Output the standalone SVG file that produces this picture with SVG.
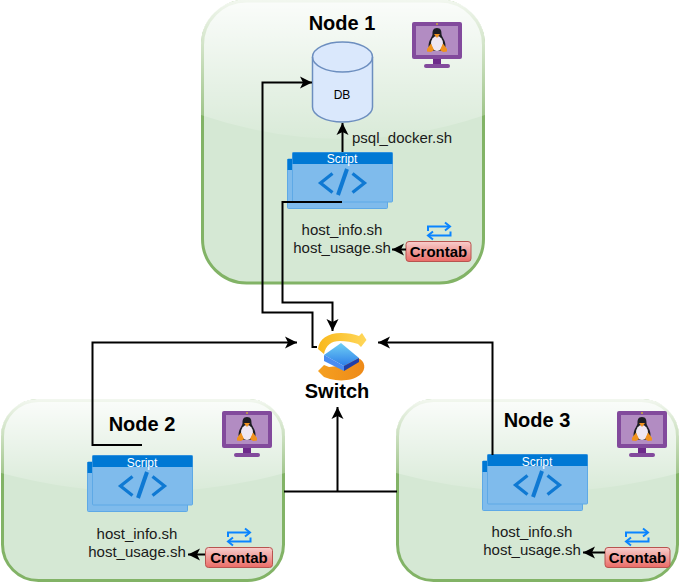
<svg xmlns="http://www.w3.org/2000/svg" xmlns:xlink="http://www.w3.org/1999/xlink" width="679" height="583" viewBox="0 0 679 583">
<style>
text{font-family:"Liberation Sans",Arial,sans-serif;fill:#000}
.panel{fill:#d5e8d4;stroke:#82b366;stroke-width:3}
.glass{fill:url(#glassGrad)}
.title{font-size:20px;font-weight:bold;text-anchor:middle}
.sh{font-size:15px;text-anchor:middle;fill:#1a1a1a}
.cron{fill:url(#cronGrad);stroke:#b85450;stroke-width:1}
.cronT{font-size:15px;font-weight:bold;text-anchor:middle}
.conn{fill:none;stroke:#000;stroke-width:2}
.scr{font-size:12px;fill:#fff;text-anchor:middle}
</style>
<defs>
<linearGradient id="glassGrad" x1="0" y1="0" x2="0" y2="1"><stop offset="0" stop-color="#fff" stop-opacity=".9"/><stop offset="1" stop-color="#fff" stop-opacity=".1"/></linearGradient>
<linearGradient id="cronGrad" x1="0" y1="0" x2="0" y2="1"><stop offset="0" stop-color="#f8cecc"/><stop offset="1" stop-color="#ea6b66"/></linearGradient>
<linearGradient id="boxTop" x1="0" y1="0" x2="0" y2="1"><stop offset="0" stop-color="#6fd0f5"/><stop offset="1" stop-color="#2f7fe8"/></linearGradient>
<linearGradient id="yel" x1="0" y1="0" x2="1" y2="0"><stop offset="0" stop-color="#f9b81c"/><stop offset="1" stop-color="#ffd75a"/></linearGradient>
<linearGradient id="org" x1="0" y1="0" x2="1" y2="0"><stop offset="0" stop-color="#f5a020"/><stop offset="1" stop-color="#ee8a18"/></linearGradient>
<marker id="arrow" markerUnits="userSpaceOnUse" markerWidth="14" markerHeight="14" refX="13" refY="7" orient="auto"><path d="M1,1 L13,7 L1,13 L4,7 Z" fill="#000"/></marker>
<g id="scriptIcon">
<rect x="-5" y="6.5" width="100" height="49.5" rx="1" fill="#7fbbec" stroke="#5ea9e6"/>
<rect x="-5" y="6.5" width="100" height="11" fill="#0078d4"/>
<rect x="0" y="0" width="100" height="49.5" rx="1" fill="#7fbbec" stroke="#5ea9e6"/>
<rect x="0" y="0" width="100" height="11.5" fill="#0078d4"/>
<path d="M40,21 L28,30.5 L40,40 M60,21 L72,30.5 L60,40" fill="none" stroke="#0f79d3" stroke-width="3.2"/>
<path d="M54.5,16.5 L45.5,42.5" fill="none" stroke="#0f79d3" stroke-width="4"/>
</g>
<g id="refreshIcon" fill="none" stroke="#0a84ff" stroke-width="2">
<path d="M1,9 V4.5 H22"/><path d="M18,0.5 L23,4.5 L18,8.5"/>
<path d="M23.5,9.5 V13.5 H2"/><path d="M6,9.5 L1,13.5 L6,17.5"/>
</g>
<g id="linuxIcon">
<rect x="0" y="0" width="50" height="37" rx="2" fill="#824a9c"/>
<rect x="4" y="4" width="42" height="29" fill="#b28cc2"/>
<circle cx="25" cy="2" r="1" fill="#c9a93a"/>
<rect x="21" y="37" width="8" height="5" fill="#6d2a8a"/>
<rect x="12" y="42" width="26" height="4" rx="2" fill="#824a9c"/>
<path d="M25,6 C21,6 20.5,9 20.5,12 C20.5,15 16.5,18 16.5,24 C16.5,28 20,29 25,29 C30,29 33.5,28 33.5,24 C33.5,18 29.5,15 29.5,12 C29.5,9 29,6 25,6 Z" fill="#1e1e24"/>
<ellipse cx="25" cy="21.5" rx="6" ry="7.5" fill="#eee6f2"/>
<path d="M22,12 L28,12 L25,16 Z" fill="#f0921e"/>
<path d="M15,27 L19,21.5 L22,28 L19,30 L15,29.5 Z M35,27 L31,21.5 L28,28 L31,30 L35,29.5 Z" fill="#f0921e"/>
</g>
</defs>

<g id="node1">
<rect class="panel" x="202.5" y="1" width="281" height="282" rx="44"/>
<path class="glass" d="M201,115 V45 A44,44 0 0 1 245,-0.5 H441 A44,44 0 0 1 485,45 V115 Q343,163 201,115 Z"/>
<text class="title" x="342" y="30">Node 1</text>
<use xlink:href="#linuxIcon" href="#linuxIcon" x="412" y="22"/>
<g id="db">
<path d="M312.5,57 V107 A30,15 0 0 0 372.5,107 V57 A30,15 0 0 0 312.5,57 Z" fill="#dae8fc" stroke="#6c8ebf" stroke-width="1.5"/>
<path d="M312.5,57 A30,15 0 0 0 372.5,57" fill="none" stroke="#6c8ebf" stroke-width="1.5"/>
<text x="342" y="99" font-size="12" text-anchor="middle">DB</text>
</g>
<text class="sh" x="402" y="143">psql_docker.sh</text>
<g id="script1"><use xlink:href="#scriptIcon" href="#scriptIcon" x="292.5" y="152.5"/><text class="scr" x="342" y="163">Script</text></g>
<text class="sh" x="342" y="235">host_info.sh</text>
<text class="sh" x="342" y="253">host_usage.sh</text>
<use xlink:href="#refreshIcon" href="#refreshIcon" x="427" y="222"/>
<g id="crontab1"><rect class="cron" x="406" y="241.5" width="65" height="20" rx="3"/><text class="cronT" x="438.5" y="257">Crontab</text></g>
</g>

<g id="node2">
<rect class="panel" x="2.5" y="400.5" width="281" height="180" rx="36"/>
<path class="glass" d="M1,473 V436 A36,36 0 0 1 37,399 H249 A36,36 0 0 1 285,436 V473 Q143,511 1,473 Z"/>
<text class="title" x="142" y="431">Node 2</text>
<use xlink:href="#linuxIcon" href="#linuxIcon" x="222" y="411"/>
<g id="script2"><use xlink:href="#scriptIcon" href="#scriptIcon" x="92.5" y="455.5"/><text class="scr" x="142" y="467">Script</text></g>
<text class="sh" x="137" y="539">host_info.sh</text>
<text class="sh" x="137" y="557">host_usage.sh</text>
<use xlink:href="#refreshIcon" href="#refreshIcon" x="227" y="528"/>
<g id="crontab2"><rect class="cron" x="205.5" y="547.5" width="67" height="20" rx="3"/><text class="cronT" x="239" y="563">Crontab</text></g>
</g>

<g id="node3">
<rect class="panel" x="397.5" y="400.5" width="280" height="180" rx="36"/>
<path class="glass" d="M396,473 V436 A36,36 0 0 1 432,399 H643 A36,36 0 0 1 679,436 V473 Q537,511 396,473 Z"/>
<text class="title" x="537" y="427">Node 3</text>
<use xlink:href="#linuxIcon" href="#linuxIcon" x="617" y="411"/>
<g id="script3"><use xlink:href="#scriptIcon" href="#scriptIcon" x="487.5" y="454.5"/><text class="scr" x="537" y="466">Script</text></g>
<text class="sh" x="532" y="537">host_info.sh</text>
<text class="sh" x="532" y="555">host_usage.sh</text>
<use xlink:href="#refreshIcon" href="#refreshIcon" x="625" y="528"/>
<g id="crontab3"><rect class="cron" x="605" y="547.5" width="65" height="20" rx="3"/><text class="cronT" x="637.5" y="563">Crontab</text></g>
</g>

<g id="switch">
<path d="M318,349 C319,339 328,333 341,333 C348,333 354,334 359,336 L362,333 L366.5,340 L361,347 L358,344 C352,342 346,341 340,341 C331,341 326,345 324,354 Z" fill="url(#yel)"/>
<path d="M358,360 C361,363 360,368 352,371 C346,373 338,373 329,372 L324,377 L318,371 L324,365 L329,367 C335,366 339,366 343,366 L358,358 Z M358,358 C365,361 367,369 360,375 C352,381 340,381.5 330,379 L324,377 L328,371 L350,369 Z" fill="url(#org)"/>
<path d="M324,355 L341,343 L359,358 L344,366 Z" fill="url(#boxTop)"/>
<path d="M324,355 L344,366 L344,371 L324,361 Z" fill="#4a8cf0"/>
<path d="M344,366 L359,358 L359,362 L344,371 Z" fill="#1f3fa8"/>
<text class="title" x="337" y="398">Switch</text>
</g>

<g id="connectors">
<path class="conn" d="M317,347 H312.5 V312.5 H262.5 V82.5 H312" marker-end="url(#arrow)"/>
<path class="conn" d="M342,202 H282.5 V302.5 H332.5 V331" marker-end="url(#arrow)"/>
<path class="conn" d="M142,445 H92.5 V342.5 H297" marker-end="url(#arrow)"/>
<path class="conn" d="M492.5,455 V342.5 H378" marker-end="url(#arrow)"/>
<path class="conn" d="M284,491.5 H397"/>
<path class="conn" d="M337.5,491.5 V407" marker-end="url(#arrow)"/>
<path class="conn" d="M342.5,152 V123" marker-end="url(#arrow)"/>
<path class="conn" d="M406,249.5 H392" marker-end="url(#arrow)"/>
<path class="conn" d="M205,554.5 H188" marker-end="url(#arrow)"/>
<path class="conn" d="M605,552.5 H583" marker-end="url(#arrow)"/>
</g>
</svg>
